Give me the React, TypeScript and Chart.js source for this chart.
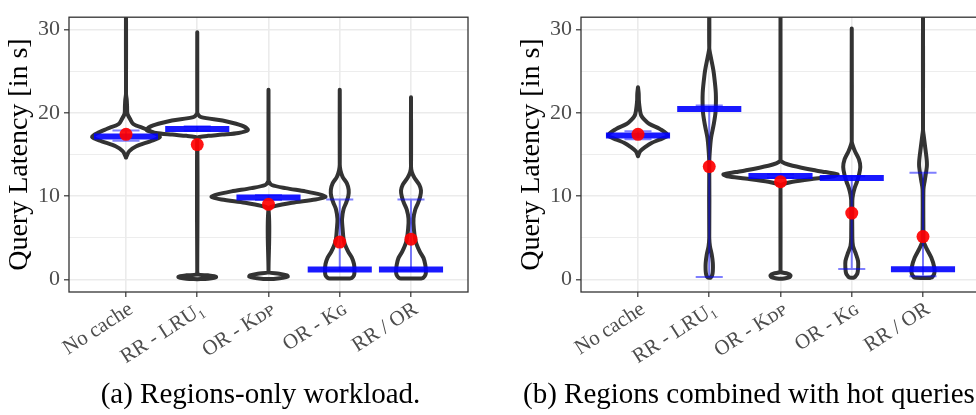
import React, { useEffect, useRef } from "react";
import { Chart, registerables } from "chart.js";

Chart.register(...registerables);

// ---------- data ----------
const categories = ["No cache", "RR - LRU\u2081", "OR - K\u1D05\u1D18", "OR - K\u0262", "RR / OR"];
const yTickValues = [0, 5, 10, 15, 20, 25, 30];

// violin outlines: [latency (s), half width in category units]
const violinA_noCache: [number, number][] = [[14.65, 0], [15.4, 0.045], [16.0, 0.145], [16.6, 0.34], [17.1, 0.475], [17.56, 0.405], [18.1, 0.265], [18.7, 0.1], [19.3, 0.055], [19.9, 0.02], [20.8, 0.015], [21.6, 0.01], [22.3, 0], [34, 0]];
const violinA_rrLru: [number, number][] = [[0.03, 0], [0.1, 0.15], [0.2, 0.24], [0.3, 0.265], [0.4, 0.24], [0.5, 0.15], [0.62, 0.005], [1.0, 0], [17.0, 0], [17.12, 0.03], [17.25, 0.15], [17.4, 0.35], [17.6, 0.58], [17.94, 0.71], [18.33, 0.665], [18.7, 0.545], [19.1, 0.355], [19.5, 0.055], [19.9, 0.005], [20.3, 0], [29.7, 0]];
const violinA_orKdp: [number, number][] = [[0.05, 0], [0.1, 0.1], [0.2, 0.2], [0.35, 0.27], [0.5, 0.26], [0.7, 0.15], [0.85, 0.003], [1.1, 0], [8.45, 0], [8.84, 0.1], [9.22, 0.33], [9.61, 0.66], [9.92, 0.8], [10.19, 0.73], [10.58, 0.52], [10.97, 0.24], [11.35, 0.045], [11.74, 0.005], [12.1, 0], [22.8, 0]];
const violinA_orKg: [number, number][] = [[0.12, 0.14], [0.19, 0.17], [0.5, 0.2], [1.08, 0.207], [1.86, 0.2], [2.63, 0.17], [3.4, 0.115], [4.57, 0.06], [6.1, 0.04], [7.28, 0.032], [8.45, 0.053], [9.22, 0.09], [10.0, 0.12], [10.77, 0.125], [11.55, 0.1], [12.33, 0.04], [13.1, 0.01], [13.8, 0], [22.8, 0]];
const violinA_rrOr: [number, number][] = [[0.12, 0.14], [0.19, 0.17], [0.5, 0.2], [1.0, 0.21], [1.8, 0.2], [2.6, 0.175], [3.4, 0.12], [4.6, 0.065], [6.1, 0.04], [7.3, 0.035], [8.4, 0.06], [9.2, 0.1], [10.0, 0.13], [10.7, 0.14], [11.4, 0.115], [12.2, 0.05], [12.9, 0.012], [13.6, 0], [21.9, 0]];

const medianA = [17.16, 18.06, 9.85, 1.2, 1.2];
const meanA = [17.44, 16.2, 9.03, 4.5, 4.84];
const q1A = [16.66, 17.85, 9.55, 1.1, 1.1];
const q3A = [17.9, 18.4, 10.15, 9.6, 9.6];

const violinB_noCache: [number, number][] = [[14.8, 0], [15.4, 0.03], [16.0, 0.115], [16.4, 0.19], [16.8, 0.3], [17.3, 0.42], [18.06, 0.31], [18.7, 0.155], [19.2, 0.09], [19.7, 0.045], [20.2, 0.03], [20.8, 0.02], [21.5, 0.012], [22.3, 0.01], [23.1, 0]];
const violinB_rrLru: [number, number][] = [[0.23, 0.02], [0.5, 0.04], [1.0, 0.05], [2.0, 0.05], [3.0, 0.035], [4.0, 0.01], [5.0, 0], [14.0, 0], [15.4, 0.008], [17.0, 0.025], [18.5, 0.06], [20.1, 0.088], [22.4, 0.092], [24.7, 0.065], [25.5, 0.05], [27.0, 0.015], [27.8, 0], [34, 0]];
const violinB_orKdp: [number, number][] = [[0.08, 0], [0.15, 0.07], [0.3, 0.13], [0.5, 0.14], [0.7, 0.1], [0.88, 0.003], [1.1, 0], [11.1, 0], [11.35, 0.005], [11.74, 0.17], [12.13, 0.495], [12.4, 0.75], [12.63, 0.8], [12.9, 0.63], [13.1, 0.495], [13.67, 0.17], [13.95, 0.06], [14.26, 0.005], [14.6, 0], [34, 0]];
const violinB_orKg: [number, number][] = [[0.23, 0.03], [0.35, 0.05], [0.7, 0.078], [1.47, 0.09], [2.24, 0.088], [3.02, 0.06], [3.99, 0.018], [5.0, 0.008], [9.5, 0.008], [10.19, 0.018], [10.97, 0.04], [11.74, 0.073], [12.5, 0.1], [13.5, 0.12], [14.45, 0.1], [15.4, 0.045], [16.2, 0.01], [16.6, 0], [30.15, 0]];
const violinB_rrOr: [number, number][] = [[0.2, 0.1], [0.3, 0.13], [0.7, 0.158], [1.47, 0.158], [2.63, 0.116], [3.8, 0.045], [4.57, 0.008], [5.0, 0.006], [10.8, 0.006], [11.9, 0.025], [13.5, 0.053], [14.26, 0.053], [15.8, 0.032], [17.4, 0.008], [18.0, 0], [34, 0]];

const medianB = [17.28, 20.47, 12.42, 12.2, 1.22];
const meanB = [17.44, 13.56, 11.74, 7.98, 5.15];
const q1B = [16.85, 0.3, 12.2, 1.26, 0.38];
const q3B = [17.8, 20.9, 12.65, 12.4, 12.83];

const violinsA = [violinA_noCache, violinA_rrLru, violinA_orKdp, violinA_orKg, violinA_rrOr];
const violinsB = [violinB_noCache, violinB_rrLru, violinB_orKdp, violinB_orKg, violinB_rrOr];

// ---------- styling ----------
const FONT = "'Liberation Serif', 'DejaVu Serif', serif";
const MEDIAN_HALF = 0.45;
const CAP_HALF = 0.19;
const CANVAS_H = 385;
const PLOT_BOTTOM = 292;

function violinPoints(center: number, profile: [number, number][]) {
  const right = profile.map(([v, w]) => ({ x: center + w, y: v }));
  const left = profile.slice().reverse().map(([v, w]) => ({ x: center - w, y: v }));
  return [...right, ...left, right[0]];
}

function segments(list: { x1: number; x2: number; y1: number; y2: number }[]) {
  const pts: any[] = [];
  list.forEach((s) => {
    pts.push({ x: s.x1, y: s.y1 }, { x: s.x2, y: s.y2 }, { x: s.x2, y: null });
  });
  return pts;
}

const panelBorder = {
  id: "panelBorder",
  afterDatasetsDraw(chart: any) {
    const { ctx, chartArea: a } = chart;
    ctx.save();
    ctx.strokeStyle = "#333333";
    ctx.lineWidth = 1.3;
    ctx.strokeRect(a.left, a.top, a.right - a.left, a.bottom - a.top);
    ctx.restore();
  },
};

function buildConfig(
  violins: [number, number][][],
  medians: number[],
  means: number[],
  q1: number[],
  q3: number[],
  yAxisWidth: number,
  titlePad: number,
  padRight: number
): any {
  const datasets: any[] = [];
  violins.forEach((prof, i) => {
    datasets.push({
      type: "line",
      data: violinPoints(i + 1, prof),
      borderColor: "#333333",
      borderWidth: 4,
      borderJoinStyle: "round",
      borderCapStyle: "round",
      pointRadius: 0,
      tension: 0.3,
      fill: false,
      order: 4,
      clip: 0,
    });
  });
  const errSegs: any[] = [];
  q1.forEach((lo, i) => {
    const c = i + 1;
    const hi = q3[i];
    errSegs.push({ x1: c - CAP_HALF, x2: c + CAP_HALF, y1: hi, y2: hi });
    errSegs.push({ x1: c, x2: c, y1: hi, y2: lo });
    errSegs.push({ x1: c - CAP_HALF, x2: c + CAP_HALF, y1: lo, y2: lo });
  });
  datasets.push({
    type: "line",
    data: segments(errSegs),
    borderColor: "rgba(0,0,255,0.5)",
    borderWidth: 2,
    pointRadius: 0,
    spanGaps: false,
    order: 3,
    clip: 0,
  });
  datasets.push({
    type: "line",
    data: segments(medians.map((m, i) => ({ x1: i + 1 - MEDIAN_HALF, x2: i + 1 + MEDIAN_HALF, y1: m, y2: m }))),
    borderColor: "rgba(0,0,255,0.9)",
    borderWidth: 6,
    borderCapStyle: "butt",
    pointRadius: 0,
    spanGaps: false,
    order: 2,
    clip: 0,
  });
  datasets.push({
    type: "scatter",
    data: means.map((m, i) => ({ x: i + 1, y: m })),
    pointRadius: 6.5,
    pointBackgroundColor: "rgba(255,0,0,0.92)",
    pointBorderWidth: 0,
    borderWidth: 0,
    order: 0,
  });

  return {
    type: "line",
    data: { datasets },
    plugins: [panelBorder],
    options: {
      animation: false,
      responsive: false,
      devicePixelRatio: 1,
      events: [],
      layout: { padding: { top: 8, right: padRight, left: 0, bottom: 0 } },
      plugins: { legend: { display: false }, tooltip: { enabled: false } },
      scales: {
        x: {
          type: "linear",
          min: 0.2,
          max: 5.8,
          afterBuildTicks: (s: any) => {
            s.ticks = categories.map((_, i) => ({ value: i + 1 }));
          },
          afterFit: (s: any) => {
            s.height = CANVAS_H - PLOT_BOTTOM;
          },
          ticks: {
            autoSkip: false,
            minRotation: 33,
            maxRotation: 33,
            padding: 0,
            labelOffset: 5,
            color: "#4d4d4d",
            font: { family: FONT, size: 21 },
            callback: (v: any) => categories[Math.round(Number(v)) - 1] ?? "",
          },
          grid: {
            color: "#ebebeb",
            lineWidth: 1.6,
            tickColor: "#333333",
            tickLength: 5,
            tickWidth: 1.2,
          },
          border: { display: false },
        },
        y: {
          type: "linear",
          min: -1.5,
          max: 31.5,
          afterBuildTicks: (s: any) => {
            s.ticks = yTickValues.map((v) => ({ value: v }));
          },
          afterFit: (s: any) => {
            s.width = yAxisWidth;
          },
          ticks: {
            autoSkip: false,
            padding: 4,
            color: "#4d4d4d",
            font: { family: FONT, size: 22 },
            callback: (v: any) => (Number(v) % 10 === 0 ? String(v) : ""),
          },
          grid: {
            color: "#ebebeb",
            lineWidth: (ctx: any) => (ctx.tick && ctx.tick.value % 10 === 0 ? 1.6 : 0.9),
            tickColor: (ctx: any) => (ctx.tick && ctx.tick.value % 10 === 0 ? "#333333" : "rgba(0,0,0,0)"),
            tickLength: 5,
            tickWidth: 1.2,
          },
          border: { display: false },
          title: {
            display: true,
            text: "Query Latency [in s]",
            color: "#000000",
            font: { family: FONT, size: 28 },
            padding: { top: titlePad, bottom: 0 },
          },
        },
      },
    },
  };
}

export default function App() {
  const leftRef = useRef<HTMLCanvasElement>(null);
  const rightRef = useRef<HTMLCanvasElement>(null);

  useEffect(() => {
    const a = new Chart(leftRef.current as HTMLCanvasElement, buildConfig(violinsA, medianA, meanA, q1A, q3A, 69, 3, 12));
    const b = new Chart(rightRef.current as HTMLCanvasElement, buildConfig(violinsB, medianB, meanB, q1B, q3B, 93, 27, 8));
    return () => {
      a.destroy();
      b.destroy();
    };
  }, []);

  const captionStyle: React.CSSProperties = {
    position: "absolute",
    top: 379,
    fontFamily: FONT,
    fontSize: 29,
    lineHeight: "29px",
    color: "#000",
    whiteSpace: "nowrap",
  };

  return (
    <div style={{ position: "fixed", left: 0, top: 0, width: 976, height: 415, overflow: "hidden", background: "#fff" }}>
      <canvas ref={leftRef} width={480} height={CANVAS_H} style={{ position: "absolute", left: 0, top: 0, width: 480, height: CANVAS_H }} />
      <canvas ref={rightRef} width={500} height={CANVAS_H} style={{ position: "absolute", left: 488, top: 0, width: 500, height: CANVAS_H }} />
      <div style={{ ...captionStyle, left: 0, width: 521, textAlign: "center" }}>(a) Regions-only workload.</div>
      <div style={{ ...captionStyle, left: 523 }}>(b) Regions combined with hot queries.</div>
    </div>
  );
}
